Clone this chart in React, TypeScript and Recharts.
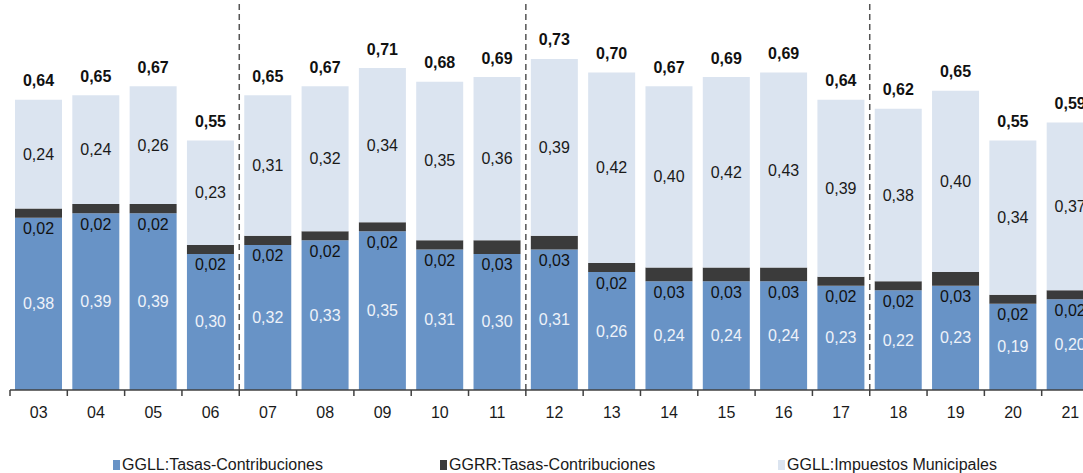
import React from 'react';
import { BarChart, Bar, XAxis, YAxis, LabelList, ReferenceLine } from 'recharts';

// Data
const CATEGORIES = ['03', '04', '05', '06', '07', '08', '09', '10', '11', '12', '13', '14', '15', '16', '17', '18', '19', '20', '21'];
const GGLL_TASAS = [0.38, 0.39, 0.39, 0.30, 0.32, 0.33, 0.35, 0.31, 0.30, 0.31, 0.26, 0.24, 0.24, 0.24, 0.23, 0.22, 0.23, 0.19, 0.20];
const GGRR_TASAS = [0.02, 0.02, 0.02, 0.02, 0.02, 0.02, 0.02, 0.02, 0.03, 0.03, 0.02, 0.03, 0.03, 0.03, 0.02, 0.02, 0.03, 0.02, 0.02];
const GGLL_IMPUESTOS = [0.24, 0.24, 0.26, 0.23, 0.31, 0.32, 0.34, 0.35, 0.36, 0.39, 0.42, 0.40, 0.42, 0.43, 0.39, 0.38, 0.40, 0.34, 0.37];
const TOTALS = [0.64, 0.65, 0.67, 0.55, 0.65, 0.67, 0.71, 0.68, 0.69, 0.73, 0.70, 0.67, 0.69, 0.69, 0.64, 0.62, 0.65, 0.55, 0.59];
// dashed separators come after these categories
const SEPARATORS_AFTER = ['06', '11', '17'];
const SERIES_NAMES = ['GGLL:Tasas-Contribuciones', 'GGRR:Tasas-Contribuciones', 'GGLL:Impuestos Municipales'];

const COLORS = {
  tasas: '#6893c6',
  ggrr: '#3b3b3b',
  impuestos: '#dbe4f0',
};
const SERIES_COLORS = [COLORS.tasas, COLORS.ggrr, COLORS.impuestos];
const LEGEND_LEFT = [113, 440, 778];

const FONT = '"Liberation Sans", Arial, sans-serif';
const CHART_W = 1100;
const MARGIN = { top: 0, right: 1, left: 10, bottom: 0 };
const STEP = (CHART_W - MARGIN.left - MARGIN.right) / CATEGORIES.length;

const data = CATEGORIES.map((cat, i) => ({
  cat,
  tasas: GGLL_TASAS[i],
  ggrr: GGRR_TASAS[i],
  impuestos: GGLL_IMPUESTOS[i],
  total: TOTALS[i],
}));

const fmt = (v: number) => v.toFixed(2).replace('.', ',');

const centerLabel = (color: string) => (props: any) => {
  const { x, y, width, height, value } = props;
  return (
    <text
      x={x + width / 2}
      y={y + height / 2}
      textAnchor="middle"
      dominantBaseline="central"
      fill={color}
      fontSize={16}
      fontFamily={FONT}
    >
      {fmt(value)}
    </text>
  );
};

const belowLabel = (props: any) => {
  const { x, y, width, height, value } = props;
  return (
    <text
      x={x + width / 2}
      y={y + height + 11}
      textAnchor="middle"
      dominantBaseline="central"
      fill="#111"
      fontSize={16}
      fontFamily={FONT}
    >
      {fmt(value)}
    </text>
  );
};

const totalLabel = (props: any) => {
  const { x, y, width, index } = props;
  return (
    <text
      x={x + width / 2}
      y={y - 19}
      textAnchor="middle"
      dominantBaseline="central"
      fill="#111"
      fontSize={16}
      fontWeight="bold"
      fontFamily={FONT}
    >
      {fmt(TOTALS[index])}
    </text>
  );
};

// category label plus tick marks on the band edges
const CatTick = (props: any) => {
  const { x, y, payload, index } = props;
  const left = x - STEP / 2;
  return (
    <g>
      <line x1={left} x2={left} y1={y} y2={y + 6} stroke="#404040" strokeWidth={1.5} />
      {index === CATEGORIES.length - 1 && (
        <line x1={x + STEP / 2} x2={x + STEP / 2} y1={y} y2={y + 6} stroke="#404040" strokeWidth={1.5} />
      )}
      <text x={x} y={y + 22} textAnchor="middle" dominantBaseline="central" fill="#1a1a1a" fontSize={16} fontFamily={FONT}>
        {payload.value}
      </text>
    </g>
  );
};

export default function App() {
  return (
    <div
      style={{
        position: 'absolute',
        left: 0,
        top: 0,
        width: 1083,
        height: 473,
        overflow: 'hidden',
        background: '#fff',
        fontFamily: FONT,
      }}
    >
      <BarChart width={CHART_W} height={430} data={data} margin={MARGIN}>
        <XAxis
          dataKey="cat"
          height={40}
          axisLine={{ stroke: '#404040', strokeWidth: 1.5 }}
          tickLine={false}
          tickMargin={0}
          tickSize={0}
          interval={0}
          tick={<CatTick />}
        />
        <YAxis hide domain={[0, 0.86]} />
        {SEPARATORS_AFTER.map((c) => (
          <ReferenceLine
            key={c}
            x={c}
            position="end"
            stroke="#555"
            strokeWidth={1.5}
            strokeDasharray="6 4"
          />
        ))}
        <Bar dataKey="tasas" stackId="s" fill={COLORS.tasas} barSize={47} isAnimationActive={false}>
          <LabelList dataKey="tasas" content={centerLabel('#eef2f9')} />
        </Bar>
        <Bar dataKey="ggrr" stackId="s" fill={COLORS.ggrr} barSize={47} isAnimationActive={false}>
          <LabelList dataKey="ggrr" content={belowLabel} />
        </Bar>
        <Bar dataKey="impuestos" stackId="s" fill={COLORS.impuestos} barSize={47} isAnimationActive={false}>
          <LabelList dataKey="impuestos" content={centerLabel('#1a1a1a')} />
          <LabelList dataKey="total" content={totalLabel} />
        </Bar>
      </BarChart>
      {SERIES_NAMES.map((name, i) => (
        <div
          key={name}
          style={{
            position: 'absolute',
            left: LEGEND_LEFT[i],
            top: 455,
            display: 'flex',
            alignItems: 'center',
            fontSize: 16,
            lineHeight: '20px',
            color: '#1a1a1a',
            whiteSpace: 'nowrap',
          }}
        >
          <span
            style={{
              display: 'inline-block',
              width: 7,
              height: 10,
              background: SERIES_COLORS[i],
              marginRight: 2,
            }}
          />
          {name}
        </div>
      ))}
    </div>
  );
}
